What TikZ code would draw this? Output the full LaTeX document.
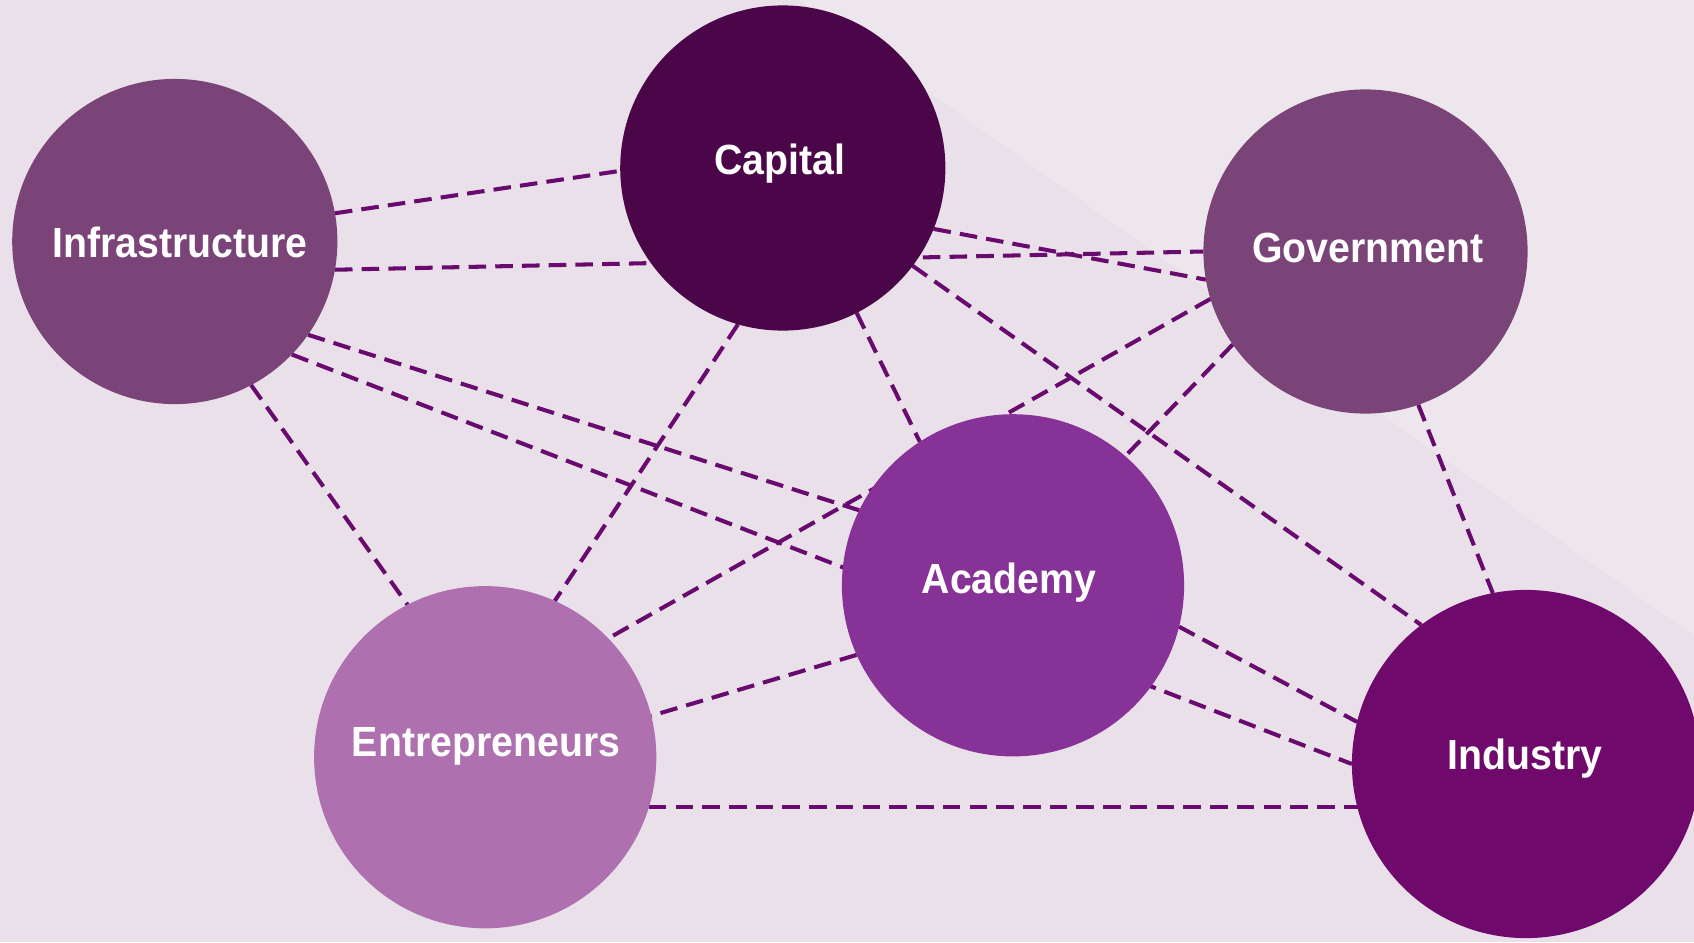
\documentclass[tikz,border=0pt]{standalone}
\usepackage{fontspec}
\setmainfont{Liberation Sans}[FakeStretch=0.93]
\usetikzlibrary{backgrounds}
\definecolor{bgc}{RGB}{234,224,234}
\definecolor{bglight}{RGB}{237,230,237}
\definecolor{linec}{RGB}{104,10,110}
\definecolor{capc}{RGB}{74,6,72}
\definecolor{infc}{RGB}{123,68,121}
\definecolor{acac}{RGB}{135,50,151}
\definecolor{entc}{RGB}{174,112,174}
\definecolor{indc}{RGB}{112,9,108}
\begin{document}
\begin{tikzpicture}[x=0.01cm,y=-0.01cm,
  hub/.style={circle,inner sep=0pt,outer sep=0pt},
  lab/.style={anchor=base,text=white,inner sep=0pt,font=\bfseries\fontsize{12}{14}\selectfont},
  link/.style={draw=linec,line width=1.15pt,dash pattern=on 5pt off 2.6pt}]
\useasboundingbox (0,0) rectangle (1694,942);
% circles
\node[hub,fill=capc,minimum size=3.25cm] (cap) at (782.8,168) {};
\node[hub,fill=infc,minimum size=3.25cm] (inf) at (174.8,241.5) {};
\node[hub,fill=infc,minimum size=3.24cm] (gov) at (1365.5,251.5) {};
\node[hub,fill=acac,minimum size=3.42cm] (aca) at (1013,585.3) {};
\node[hub,fill=entc,minimum size=3.42cm] (ent) at (485.2,757.2) {};
\node[hub,fill=indc,minimum size=3.48cm] (ind) at (1526,764) {};
% labels
\node[lab] (capT) at (780,174) {Capital};
\node[lab] (infT) at (180,257) {Infrastructure};
\node[lab] (govT) at (1368,262) {Government};
\node[lab] (acaT) at (1009,593) {Academy};
\node[lab] (entT) at (486,756.5) {Entrepreneurs};
\node[lab] (indT) at (1525,769) {Industry};
\begin{pgfonlayer}{background}
\fill[bgc] (0,0) rectangle (1694,942);
\fill[bglight] (799,0) -- (1694,0) -- (1694,636) -- cycle;
\draw[link] (inf.10.5) -- (cap.181.8);
\draw[link] (inf.-10.6) -- (gov.180);
\draw[link] (cap.-22.4) -- (gov.190.5);
\draw[link] (cap.-37.5) -- (ind.127);
\draw[link] (cap.-63.6) -- (aca.123.4);
\draw[link] (cap.254.9) -- (ent.66.1);
\draw[link] (inf.-35.3) -- (aca.154.5);
\draw[link] (inf.-44.6) -- (ind.180.9);
\draw[link] (inf.-62.6) -- (ent.117.3);
\draw[link] (gov.197.8) -- (ent.44.9);
\draw[link] (gov.215.5) -- (aca.49);
\draw[link] (gov.-71.6) -- (ind.101.4);
\draw[link] (aca.204) -- (ent.14.7);
\draw[link] (aca.-14.4) -- (ind.166.5);
\draw[link] (ent.-17.5) -- (ind.195.1 |- ent.-17.5);
\end{pgfonlayer}
\end{tikzpicture}
\end{document}
